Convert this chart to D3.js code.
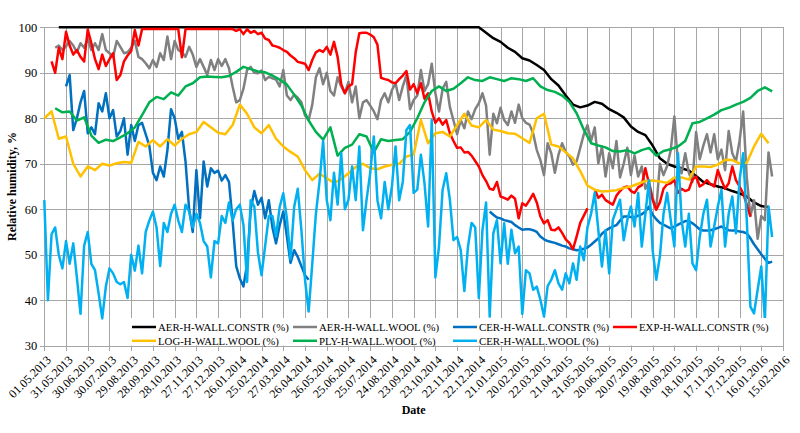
<!DOCTYPE html>
<html><head><meta charset="utf-8">
<script src="https://cdn.jsdelivr.net/npm/d3@7"></script>
<style>
body{margin:0;background:#fff;}
text{font-family:"Liberation Serif","Times New Roman",serif;fill:#000;}
</style>
</head><body>
<svg id="chart" width="800" height="433"></svg>
<script>
// ---------------- DATA ----------------
const tickLabels = ["01.05.2013","31.05.2013","30.06.2013","30.07.2013","29.08.2013","28.09.2013","28.10.2013","27.11.2013","27.12.2013","26.01.2014","25.02.2014","27.03.2014","26.04.2014","26.05.2014","25.06.2014","25.07.2014","24.08.2014","23.09.2014","23.10.2014","22.11.2014","22.12.2014","21.01.2015","20.02.2015","22.03.2015","21.04.2015","21.05.2015","20.06.2015","20.07.2015","19.08.2015","18.09.2015","18.10.2015","17.11.2015","17.12.2015","16.01.2016","15.02.2016"];
const yTicks = [30,40,50,60,70,80,90,100];
const seriesNames = ["AER-H-WALL.CONSTR (%)","AER-H-WALL.WOOL (%)","CER-H-WALL.CONSTR (%)","EXP-H-WALL.CONSTR (%)","LOG-H-WALL.WOOL (%)","PLY-H-WALL.WOOL (%)","CER-H-WALL.WOOL (%)"];

// each series: first day (days after 01.05.2013), day step, values
const aerConstrStart = 20, aerConstrStep = 10;
const aerConstr = [
100,100,100,100,100,100,100,100,100,100,
100,100,100,100,100,100,100,100,100,100,
100,100,100,100,100,100,100,100,100,100,
100,100,100,100,100,100,100,100,100,100,
100,100,100,100,100,100,100,100,100,100,
100,100,100,100,100,100,100,100,100,
98.8,97.6,96.8,95.5,94.6,93.2,92.7,91.7,90.6,88.6,
87.2,85,83,82.4,82.8,83.6,83.2,82,81.2,80.2,
78.2,77,76.3,74,71.2,70,69.4,69,68.5,67.3,
66,65.5,65,64.6,64,63.5,62.8,61.5,60.7,60.5];

const aerWoolStart = 15, aerWoolStep = 5;
const aerWool = [
95.5,96,95,95.8,97,96,94.5,96.5,95.5,97.5,
95,96.5,95,98.5,95,94.3,93.5,97,95.7,94.3,
94.5,95.5,97,93.5,93,92.1,91,92.8,91.3,94.3,
92.8,98,93,97,95,94.5,93.5,95.7,94,91.3,
93,91.3,89.5,92.8,90.6,93,91.5,93,91,87,
83.5,84,86.5,90.6,91.3,90,89.9,90.5,88.4,89.1,
88.8,88.5,87,90.6,85,84,85.2,84.5,83.5,80.6,
79.6,83,89,91,87.5,90,86,85,89,87,
85.5,88,83.5,87,80,83.5,84,82.8,81.5,79.8,
84,85.5,83.5,86.2,87.7,84,87,89.5,82,84,
85,90.6,86,87.5,92,85.5,81.5,86.5,88,82.5,
79.5,76.5,79.6,77.8,81.5,79.8,82,83.3,85.5,82.8,
72,81,78.9,82.3,79.6,78.5,81.5,79,83,80,
79,78.6,76.7,73,70.8,67.5,74.5,72.3,68,72,
74.5,72.6,71.6,69.8,70.5,73.5,76.5,78.5,75,78,
70.1,73.8,67.2,72.3,69,75,67,70,73.5,67.5,
71.8,67.2,69.4,64.5,66,62.5,60,70,67.5,69.5,
73,80.4,70,67.9,72.3,68,66,77,71,74,
76.5,72.5,76.5,71,73.1,68.6,77.2,72.3,70.5,75,
81.5,67,58.5,62,53.5,58.5,57.6,72.5,67.2];

const cerConstrAStart = 30, cerConstrBStart = 615, cerConstrStep = 5;
const cerConstrA = [
87,89.5,77.4,80,83.5,86,76.7,78,76.5,83.3,
81.5,85.5,80,81.8,76,77.2,80,72,78.5,75,
78.5,79,76.5,74,68,66.4,69.4,67.2,73,82,
80,75.5,77,70.5,60,55,68.6,58,70.5,65,
69,68,68.5,66.3,67.5,66,57.5,47.5,44.8,43,
48,60,64,61,62.5,58,62,56,52.5,56.5,
59.5,54,48.2,51,49.5,47.5,45.5,44.5];
const cerConstrB = [
59.5,58.8,58.2,58,57.6,57.4,57.2,56.5,56,55.5,
55.6,55.6,55.4,55,54,53.4,53,52.8,52.6,52.3,
52,51.8,51.4,51.2,51,51.1,51.3,51.6,52.2,52.9,
53.6,54.6,55.3,55.8,56.2,56.5,57.5,58.4,58.4,58.3,
58.2,58.6,58.9,59.5,60.6,58.8,57.8,57,56.6,56.2,
55.8,56.2,56.6,57,57.4,57.4,56.9,56.3,55.6,55.3,
55.3,55.4,55.6,55.9,56.2,55.8,55.4,55.3,55.3,55.1,
55,54.7,53.6,52.3,51.2,50.1,49.1,48.2,48.5];

const expConstrStart = 10, expConstrStep = 5;
const expConstr = [
92.5,90,95.5,93,99,96,94,95,93.5,92.5,
99.5,96.5,93,90.8,94,91.5,93,94.3,88.4,89.5,
92.5,93.8,94.8,99.4,96,99.6,99.6,99.6,99.6,99.6,
99.6,99.6,99.6,99.6,99.6,99.6,93.4,99.6,99.6,99.6,
99.6,99.6,99.6,99.6,99.6,99.6,99.6,99.6,99.6,99.6,
99.6,99.2,99.6,98.5,99.6,98.8,99.2,98.5,98.8,97.5,
97.2,96,95.8,95.5,95,94.6,93.8,93.2,92.4,92.2,
92,90.6,92.8,94.5,95,94.6,95.7,94,96.8,93.5,
87.5,85.5,87,87.5,94.5,98.7,98.8,98.8,98.4,97.8,
96.2,88.9,88.6,88.4,87.9,87.7,88.6,89.4,90.4,86.3,
87.5,85.5,87.7,84.3,85.5,81.5,79,80,78.6,79.6,
76.7,75,73.5,73.6,72.5,72.6,71.8,70.6,69.4,67.5,
66.2,64.5,64.3,66,62.8,62.5,62.1,63,62.3,58,
61.3,60.8,62,63.4,61.5,58.4,56.9,57.6,55.5,55.4,
56,54.8,53.4,52.6,51.2,54,57,58.6,60.2,null,
64.4,62.5,63.2,62,61.5,61,63,64,64.8,65,
64,63.6,64.8,65.3,69,65.6,62,59.9,61.5,64.5,
65.5,65.7,66.4,63.6,64.5,64,64.3,66.5,67.2,65,
65.5,66.4,65.5,65,68.6,66.4,64.5,65.7,69.4,66.4,
65,63.5,61,58.4];

const logWoolStart = 0, logWoolStep = 10;
const logWool = [
80,81.5,75.5,76,70,67.2,69.4,68.6,70,69.6,
70.1,70.4,70.2,74.8,73.8,75.2,73.8,75.4,74,75.5,
76.5,77,79.2,78,76.8,76.5,78.5,83,81,78,
76.7,78.5,75.5,73.8,72.6,71.6,68.6,66.4,67.8,66.8,
65.8,66.6,67.9,69.3,70,69,68.8,69.4,69.8,70,
71.6,72,79.6,74.5,76.7,77,76,78.5,81,78.4,
78,79.6,77.5,77.2,76.7,76.6,75.6,74.6,80,81,
74.2,73.8,72.5,71.2,68.4,65.2,64.3,63.9,64,64.2,
64.7,65,65.6,66.2,66.3,66.1,65.8,67,67,66.5,
69.4,69.4,69.3,69.8,70.9,70.8,70.1,70.2,73.8,76.6,74.5];

const plyWoolStart = 15, plyWoolStep = 10;
const plyWool = [
82.2,81.3,81.5,79.5,80.2,76.2,74.6,75.3,75,75.8,
76.7,78,80.7,83.5,84.7,84.2,85.7,85,87,87.7,
89,89.2,89.1,89,89.3,90.2,91.3,90.8,90.3,90.1,
89.4,88.5,87.4,85.2,82.8,79.5,77,75.3,78,71.8,
73.5,74.2,76.5,76,72.5,75.4,75,75.2,75.4,77,
80,83.5,86,87,86,86.5,87.7,89,88.4,88.2,
89,88.6,88.2,88.8,88.6,88.2,88.8,87,86.2,85.8,
85,83.6,81.1,77.5,74.5,74,73.6,72.8,72.7,73,
72.3,73,73.5,71.8,72.8,73.2,73.8,75,78.9,79.2,
80,80.8,81.8,82.3,83,83.6,84.5,86,86.8,85.9];

const cerWoolStart = 0, cerWoolStep = 5;
const cerWool = [
62,40,54.5,56,50,47,53,48,52.5,45,
37,52,55,48,46.6,41.5,36,43,47,45.9,
44,43.5,44,40.5,50,46.5,52,45.9,55,57.5,
59.5,56,47.5,57,55,59,61,57.5,55,61,
59.5,56,59,57,53,51.8,45,53,52.5,58.5,
57,61.5,57.5,60,61,56.5,44,62,60.6,50.5,
45.5,52,58.5,58.5,54,60.5,63.5,58,49,60.5,
64.5,55.4,44.5,37.5,48,59,66,75,62,57.6,
68,61,72.3,60,62.1,69.4,62,73.8,55.4,62.1,
68,76,62,58,66,60,65,73.8,62,66,
77.4,78.5,63.6,64.3,72,65.7,56.2,79.6,45,51.8,
64.3,67.9,62.1,53.2,53.9,51,42,51.8,57,56,
40.5,55.4,61.5,36.4,54.7,57.6,48.1,56.9,48,55.5,
50.3,51.8,37,46.6,45.9,42.3,43,40.1,36.4,43.1,
44.5,46.6,43.7,42.3,45.9,43.7,48.1,44.5,51.8,48.8,
56,59,63.6,55.4,47.4,55.4,45.9,57.6,59.9,62.1,
53.2,57.6,60.6,56.2,63.6,51.8,59,66.4,51,44.5,
49.6,59,63.6,57.6,51.8,72.3,57.6,51.8,59,48.1,
46.6,53.9,59,62.1,51.8,56.2,60.6,64.3,51.8,59,
62.8,54.7,66.4,72.3,57.6,38.6,37.1,42.3,47.4,35.7,
60.6,53.9];

// ---------------- CHART ----------------
const colors = ["#000000","#808080","#0070C0","#FF0000","#FFC000","#00B050","#00B0F0"];
const parse = d3.utcParse("%d.%m.%Y");
const t0 = parse(tickLabels[0]);
const dayToDate = d => new Date(t0.getTime() + d * 864e5);
const toPts = (start, step, vals) => vals.map((v, i) => ({date: dayToDate(start + i * step), v}));

const series = [
  {segs: [toPts(aerConstrStart, aerConstrStep, aerConstr)]},
  {segs: [toPts(aerWoolStart, aerWoolStep, aerWool)]},
  {segs: [toPts(cerConstrAStart, cerConstrStep, cerConstrA), toPts(cerConstrBStart, cerConstrStep, cerConstrB)]},
  {segs: [toPts(expConstrStart, expConstrStep, expConstr)]},
  {segs: [toPts(logWoolStart, logWoolStep, logWool)]},
  {segs: [toPts(plyWoolStart, plyWoolStep, plyWool)]},
  {segs: [toPts(cerWoolStart, cerWoolStep, cerWool)]}
];

const L = 44.3, R = 783, T = 27.3, B = 345.7;
const svg = d3.select("#chart");
const x = d3.scaleUtc().domain([parse(tickLabels[0]), parse(tickLabels[tickLabels.length-1])]).range([L, R]);
const y = d3.scaleLinear().domain([30, 100]).range([B, T]);
const tickDates = tickLabels.map(parse);

// grid
const grid = svg.append("g").attr("stroke", "#a6a6a6").attr("stroke-width", 1).attr("shape-rendering","crispEdges");
grid.selectAll("line.h").data(yTicks).join("line").attr("class","h")
  .attr("x1", L - 4).attr("x2", R).attr("y1", d => Math.round(y(d)) + 0.5).attr("y2", d => Math.round(y(d)) + 0.5);
grid.selectAll("line.v").data(tickDates).join("line").attr("class","v")
  .attr("x1", d => Math.round(x(d)) + 0.5).attr("x2", d => Math.round(x(d)) + 0.5)
  .attr("y1", T).attr("y2", B + 5);

// y labels
svg.append("g").selectAll("text").data(yTicks).join("text")
  .attr("x", L - 7).attr("y", d => y(d)).attr("dy", "0.35em")
  .attr("text-anchor", "end").attr("font-size", 12.5).text(d => d);

// x labels
svg.append("g").selectAll("text").data(tickDates).join("text")
  .attr("transform", (d) => `translate(${x(d) + 1.5},${B + 9}) rotate(-45)`)
  .attr("text-anchor", "end").attr("dy", "0.7em").attr("font-size", 12)
  .text((d, i) => tickLabels[i]);

// lines
const line = d3.line().defined(p => p.v != null).x(p => x(p.date)).y(p => y(p.v));
const lg = svg.append("g").attr("fill", "none").attr("stroke-width", 2.5).attr("stroke-linejoin", "round");
series.forEach((s, i) => {
  s.segs.forEach(seg => {
    lg.append("path").datum(seg).attr("d", line).attr("stroke", colors[i]);
  });
});

// legend
const leg = svg.append("g");
leg.append("rect").attr("x", 127).attr("y", 318).attr("width", 645).attr("height", 27.5).attr("fill", "#fff");
const colX = [132, 293, 453, 613];
seriesNames.forEach((n, i) => {
  const row = Math.floor(i / 4), col = i % 4;
  const lx = colX[col], ly = 327 + row * 13.8;
  leg.append("line").attr("x1", lx).attr("x2", lx + 24).attr("y1", ly).attr("y2", ly)
    .attr("stroke", colors[i]).attr("stroke-width", 2.5);
  leg.append("text").attr("x", lx + 26).attr("y", ly).attr("dy", "0.35em").attr("font-size", 10.8).text(n);
});

// axis titles
svg.append("text").attr("transform", `translate(16,${(T + B) / 2}) rotate(-90)`)
  .attr("text-anchor", "middle").attr("font-weight", "bold").attr("font-size", 12)
  .text("Relative humidity,  %");
svg.append("text").attr("x", (L + R) / 2).attr("y", 414).attr("text-anchor", "middle")
  .attr("font-weight", "bold").attr("font-size", 12).text("Date");
</script>
</body></html>
